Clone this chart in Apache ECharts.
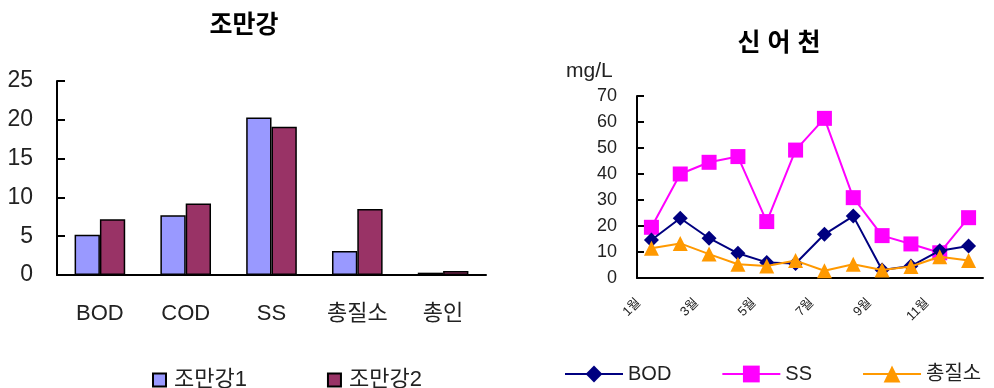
<!DOCTYPE html>
<html>
<head>
<meta charset="utf-8">
<style>
  html, body { margin: 0; padding: 0; background: #fff; }
  #chart { width: 994px; height: 388px; }
</style>
<script src="https://cdn.jsdelivr.net/npm/echarts@6/dist/echarts.min.js"></script>
</head>
<body>
<div id="chart"></div>
<script>
// 조만강: water-quality items, two sampling points
const barCategories = ['BOD', 'COD', 'SS', '총질소', '총인'];
const joman1 = [5.2, 7.7, 20.3, 3.1, 0.3];
const joman2 = [7.2, 9.2, 19.1, 8.5, 0.5];
const barTicks = [0, 5, 10, 15, 20, 25];

// 신어천: monthly values (mg/L)
const months = ['1월', '2월', '3월', '4월', '5월', '6월', '7월', '8월', '9월', '10월', '11월', '12월'];
const bod = [14.6, 23.0, 15.3, 9.5, 6.0, 5.6, 16.8, 23.8, 3.1, 4.6, 10.5, 12.3];
const ss = [19.5, 40.0, 44.5, 46.7, 21.7, 49.2, 61.4, 30.9, 16.3, 13.1, 9.7, 23.2];
const tn = [11.4, 13.3, 9.2, 5.3, 4.6, 6.7, 2.8, 5.3, 3.1, 4.4, 8.2, 6.7];
const lineTicks = [0, 10, 20, 30, 40, 50, 60, 70];

const FONT = "'Liberation Sans', 'Noto Sans CJK KR', sans-serif";
const TXT = '#222';

const chart = echarts.init(document.getElementById('chart'), null, { renderer: 'canvas' });

chart.setOption({
  animation: false,
  backgroundColor: '#fff',
  textStyle: { fontFamily: FONT },
  title: [
    {
      text: '조만강', left: 239, top: 9, textAlign: 'center',
      textStyle: { fontFamily: FONT, fontSize: 25, fontWeight: 'bold', color: '#000' }
    },
    {
      text: '신 어 천', left: 774, top: 27, textAlign: 'center',
      textStyle: { fontFamily: FONT, fontSize: 25, fontWeight: 'bold', color: '#000' }
    }
  ],
  graphic: [
    {
      type: 'text', left: 566, top: 61,
      style: { text: 'mg/L', font: "21px " + FONT, fill: TXT }
    }
  ],
  legend: [
    {
      data: ['조만강1', '조만강2'],
      left: 147, top: 364, orient: 'horizontal',
      icon: 'rect', itemWidth: 13, itemHeight: 13, itemGap: 80,
      textStyle: { fontFamily: FONT, fontSize: 22, color: TXT, padding: [0, 0, 0, 3] }
    },
    {
      data: ['BOD', 'SS', '총질소'],
      left: 559, top: 359, orient: 'horizontal',
      itemWidth: 58, itemHeight: 21, itemGap: 50,
      textStyle: { fontFamily: FONT, fontSize: 20, color: TXT }
    }
  ],
  grid: [
    { left: 57, right: 508, top: 81, bottom: 113, containLabel: false },
    { left: 637, right: 11, top: 96, bottom: 110, containLabel: false }
  ],
  xAxis: [
    {
      type: 'category', gridIndex: 0, data: barCategories,
      axisLine: { lineStyle: { color: '#000', width: 2 } },
      axisTick: { inside: true, length: 8, lineStyle: { color: '#000', width: 2 } },
      axisLabel: { fontFamily: FONT, fontSize: 22, color: TXT, margin: 28 }
    },
    {
      type: 'category', gridIndex: 1, data: months, boundaryGap: true,
      axisLine: { lineStyle: { color: '#000', width: 2 } },
      axisTick: { inside: true, length: 8, lineStyle: { color: '#000', width: 2 } },
      axisLabel: {
        fontFamily: FONT, fontSize: 13, color: TXT, rotate: 45, interval: 1,
        margin: 10, padding: [0, 18, 0, 0]
      }
    }
  ],
  yAxis: [
    {
      type: 'value', gridIndex: 0, min: barTicks[0], max: barTicks[barTicks.length - 1], interval: 5,
      axisLine: { show: true, lineStyle: { color: '#000', width: 2 } },
      axisTick: { show: true, inside: true, length: 8, lineStyle: { color: '#000', width: 2 } },
      splitLine: { show: false },
      axisLabel: { fontFamily: FONT, fontSize: 23, color: TXT, margin: 24 }
    },
    {
      type: 'value', gridIndex: 1, min: lineTicks[0], max: lineTicks[lineTicks.length - 1], interval: 10,
      axisLine: { show: true, lineStyle: { color: '#000', width: 2 } },
      axisTick: { show: true, inside: true, length: 7, lineStyle: { color: '#000', width: 2 } },
      splitLine: { show: false },
      axisLabel: { fontFamily: FONT, fontSize: 18, color: TXT, margin: 20 }
    }
  ],
  series: [
    {
      name: '조만강1', type: 'bar', xAxisIndex: 0, yAxisIndex: 0, data: joman1,
      barGap: '0%', barCategoryGap: '41%',
      itemStyle: { color: '#9999FF', borderColor: '#000', borderWidth: 1.5 }
    },
    {
      name: '조만강2', type: 'bar', xAxisIndex: 0, yAxisIndex: 0, data: joman2,
      barGap: '0%', barCategoryGap: '41%',
      itemStyle: { color: '#993366', borderColor: '#000', borderWidth: 1.5 }
    },
    {
      name: 'SS', type: 'line', xAxisIndex: 1, yAxisIndex: 1, data: ss, z: 2,
      symbol: 'rect', symbolSize: 15,
      lineStyle: { color: '#FF00FF', width: 2 },
      itemStyle: { color: '#FF00FF' }
    },
    {
      name: 'BOD', type: 'line', xAxisIndex: 1, yAxisIndex: 1, data: bod, z: 3,
      symbol: 'diamond', symbolSize: 15,
      lineStyle: { color: '#000080', width: 2 },
      itemStyle: { color: '#000080' }
    },
    {
      name: '총질소', type: 'line', xAxisIndex: 1, yAxisIndex: 1, data: tn, z: 4,
      symbol: 'triangle', symbolSize: 15,
      lineStyle: { color: '#FF9900', width: 2 },
      itemStyle: { color: '#FF9900' }
    }
  ]
});
</script>
</body>
</html>
